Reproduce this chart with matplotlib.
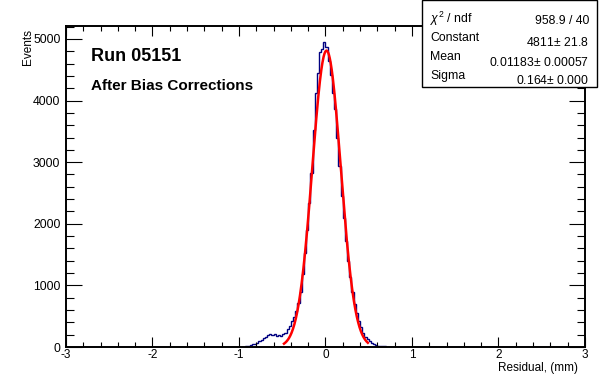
import matplotlib
matplotlib.use("Agg")
import matplotlib.pyplot as plt
import numpy as np
from matplotlib.patches import Rectangle

plt.rcParams['font.family'] = ['Liberation Sans', 'DejaVu Sans']
plt.rcParams['mathtext.fontset'] = 'custom'
plt.rcParams['mathtext.rm'] = 'Liberation Sans'
plt.rcParams['mathtext.it'] = 'Liberation Sans:italic'
plt.rcParams['axes.unicode_minus'] = False

# histogram: 240 bins from -3 to 3, only bins in [-1, 1] are filled
x_lo, x_hi, n_bins = -3.0, 3.0, 240
filled_lo = -1.0
counts_filled = [
    2, 5, 8, 14, 20, 30, 42, 55, 72, 95,
    120, 145, 170, 190, 212, 200, 205, 182, 195, 172,
    210, 235, 290, 345, 420, 480, 580, 720, 900, 1180,
    1530, 1900, 2330, 2830, 3530, 4130, 4440, 4790, 4830, 4950,
    4870, 4650, 4420, 4130, 3870, 3400, 2940, 2450, 2100, 1725,
    1400, 1135, 890, 700, 545, 430, 330, 225, 166, 130,
    100, 70, 48, 32, 22, 15, 12, 10, 8, 7,
    6, 5, 4, 3, 3, 2, 1, 1, 0, 0,
]

# gaussian fit shown in the stats box
fit_const = 4811
fit_mean = 0.01183
fit_sigma = 0.164
fit_range = (-0.48, 0.49)

stats_labels = [r"$\chi^{2}$ / ndf", "Constant", "Mean", "Sigma"]
stats_values = ["958.9 / 40", "4811$\\pm$ 21.8", "0.01183$\\pm$ 0.00057", "0.164$\\pm$ 0.000"]

edges = np.linspace(x_lo, x_hi, n_bins + 1)
counts = np.zeros(n_bins)
i0 = int(round((filled_lo - x_lo) / (x_hi - x_lo) * n_bins))
counts[i0:i0 + len(counts_filled)] = counts_filled

W, H = 599, 377
fig = plt.figure(figsize=(W / 100, H / 100), dpi=100)
ax = fig.add_axes([66 / W, 1 - 347 / H, (585 - 66) / W, (347 - 26) / H])

ax.stairs(counts, edges, color='#000080', linewidth=1.0)

xf = np.linspace(fit_range[0], fit_range[1], 300)
yf = fit_const * np.exp(-0.5 * ((xf - fit_mean) / fit_sigma) ** 2)
ax.plot(xf, yf, color='red', linewidth=1.8)

ax.set_xlim(-3, 3)
ax.set_ylim(0, 5210)
ax.set_xticks([-3, -2, -1, 0, 1, 2, 3])
ax.set_xticks(np.arange(-3, 3.01, 0.2), minor=True)
ax.set_yticks([0, 1000, 2000, 3000, 4000, 5000])
ax.set_yticks(np.arange(0, 5201, 200), minor=True)

for s in ax.spines.values():
    s.set_linewidth(1.4)
ax.tick_params(axis='x', which='major', direction='in', length=7.2, width=0.8,
               top=True, labelsize=8.5, pad=1.5)
ax.tick_params(axis='x', which='minor', direction='in', length=3.6, width=0.8, top=True)
ax.tick_params(axis='y', which='major', direction='in', length=11.5, width=0.8,
               right=True, labelsize=8.8, pad=4)
ax.tick_params(axis='y', which='minor', direction='in', length=5.8, width=0.8, right=True)

ax.text(91 / W, 1 - 61 / H, "Run 05151", transform=fig.transFigure,
        fontsize=13, fontweight='bold', ha='left', va='baseline')
ax.text(91 / W, 1 - 90 / H, "After Bias Corrections", transform=fig.transFigure,
        fontsize=11, fontweight='bold', ha='left', va='baseline')

fig.text(34 / W, 1 - 29 / H, "Events", rotation=90, ha='right', va='top', fontsize=8.5)
fig.text(578 / W, 1 - 371 / H, "Residual, (mm)", ha='right', va='baseline', fontsize=8.5)

# stats box
box = Rectangle((422 / W, 1 - 87 / H), (597 - 422) / W, 87 / H, transform=fig.transFigure,
                facecolor='white', edgecolor='black', linewidth=1.0, zorder=5)
fig.patches.append(box)
label_y = [19, 38, 57, 76]
value_y = [21, 42, 62, 80]
for lab, val, ly, vy in zip(stats_labels, stats_values, label_y, value_y):
    fig.text(430 / W, 1 - ly / H, lab, ha='left', va='center', fontsize=8.8, zorder=6)
    fig.text(589 / W, 1 - vy / H, val, ha='right', va='center', fontsize=8.8, zorder=6)

fig.savefig("out.png", dpi=100)
